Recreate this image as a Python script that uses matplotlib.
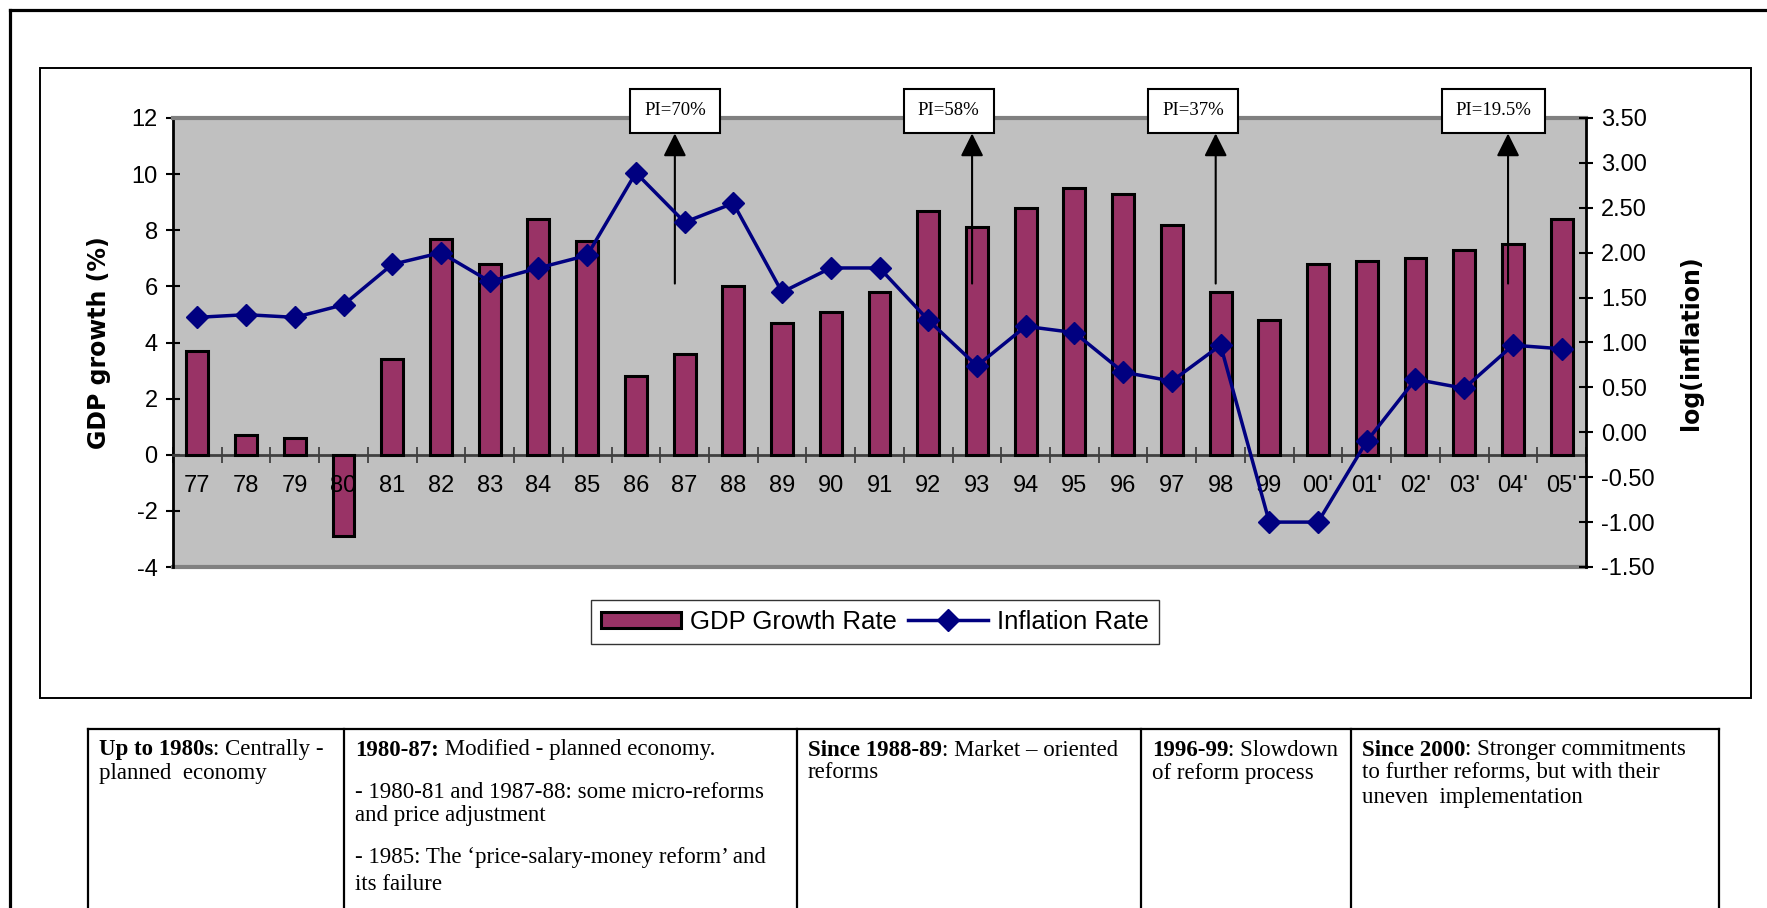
import matplotlib
matplotlib.use("Agg")
import matplotlib.pyplot as plt
from matplotlib.patches import Rectangle
from matplotlib.lines import Line2D
from matplotlib.ticker import FormatStrFormatter
import numpy as np

plt.rcParams['font.family'] = ['Liberation Sans', 'DejaVu Sans']
plt.rcParams['axes.unicode_minus'] = False

# data
years = ['77', '78', '79', '80', '81', '82', '83', '84', '85', '86', '87', '88', '89', '90',
         '91', '92', '93', '94', '95', '96', '97', '98', '99', "00'", "01'", "02'", "03'", "04'", "05'"]
gdp_growth = [3.7, 0.7, 0.6, -2.9, 3.4, 7.7, 6.8, 8.4, 7.6, 2.8, 3.6, 6.0, 4.7, 5.1,
              5.8, 8.7, 8.1, 8.8, 9.5, 9.3, 8.2, 5.8, 4.8, 6.8, 6.9, 7.0, 7.3, 7.5, 8.4]
log_inflation = [1.28, 1.31, 1.28, 1.42, 1.87, 2.00, 1.68, 1.83, 1.97, 2.89, 2.34, 2.55, 1.56, 1.83,
                 1.83, 1.25, 0.74, 1.18, 1.11, 0.67, 0.57, 0.97, -1.0, -1.0, -0.1, 0.59, 0.49, 0.97, 0.93]

pi_labels = ['PI=70%', 'PI=58%', 'PI=37%', 'PI=19.5%']
pi_years = ['87', '93', '98', "04'"]

# (y pixel, [(text, weight), ...]) per line, one list per column
table_cells = [
    [(750, [("Up to 1980s", "bold"), (": Centrally -", "normal")]),
     (773, [("planned  economy", "normal")])],
    [(750, [("1980-87:", "bold"), (" Modified - planned economy.", "normal")]),
     (793, [("- 1980-81 and 1987-88: some micro-reforms", "normal")]),
     (816, [("and price adjustment", "normal")]),
     (858, [("- 1985: The \u2018price-salary-money reform\u2019 and", "normal")]),
     (885, [("its failure", "normal")])],
    [(750, [("Since 1988-89", "bold"), (": Market \u2013 oriented", "normal")]),
     (773, [("reforms", "normal")])],
    [(750, [("1996-99", "bold"), (": Slowdown", "normal")]),
     (773, [("of reform process", "normal")])],
    [(750, [("Since 2000", "bold"), (": Stronger commitments", "normal")]),
     (773, [("to further reforms, but with their", "normal")]),
     (797, [("uneven  implementation", "normal")])],
]
table_cols = [88, 344, 797, 1141, 1351, 1719]

W, H = 1767, 908
fig = plt.figure(figsize=(W / 100, H / 100), dpi=100)


def fx(px):
    return px / W


def fy(py):
    return 1 - py / H


# outer frame and chart frame
fig.add_artist(Line2D([fx(10), fx(10)], [fy(10), fy(920)], color='black', lw=2.3))
fig.add_artist(Line2D([fx(10), fx(1780)], [fy(10), fy(10)], color='black', lw=2.3))
fig.add_artist(Rectangle((fx(40), fy(698)), fx(1751) - fx(40), fy(68) - fy(698),
                         transform=fig.transFigure, fill=False, edgecolor='black', lw=1.4))

ax = fig.add_axes([fx(173), fy(567), fx(1586) - fx(173), fy(118) - fy(567)])
x = np.arange(len(years))
ax.set_facecolor('#C0C0C0')
ax.bar(x, gdp_growth, width=0.45, color='#993366', edgecolor='black', linewidth=2.2,
       zorder=3, label='GDP Growth Rate')
ax.set_xlim(-0.5, len(years) - 0.5)
ax.set_ylim(-4, 12)
ax.set_yticks(np.arange(-4, 13, 2))
ax.tick_params(axis='y', direction='inout', length=10, width=1.5, labelsize=17, pad=6)

ax.spines['bottom'].set_position(('data', 0))
ax.spines['bottom'].set_color('#404040')
ax.spines['bottom'].set_linewidth(2)
ax.spines['top'].set_color('#808080')
ax.spines['top'].set_linewidth(3)
ax.spines['left'].set_linewidth(2)
ax.spines['right'].set_visible(False)
ax.set_xticks(np.arange(-0.5, len(years), 1))
ax.set_xticklabels([])
ax.tick_params(axis='x', direction='inout', length=11, width=1.3, color='#404040')
ax.axhline(-4, color='#808080', lw=3, zorder=2.5, clip_on=False)
for i, lab in enumerate(years):
    ax.text(i, -1.1, lab, ha='center', va='center', fontsize=17, zorder=4)

ax2 = ax.twinx()
ax2.plot(x, log_inflation, color='#000080', lw=2.5, marker='D', markersize=11,
         label='Inflation Rate', zorder=5)
ax2.set_ylim(-1.5, 3.5)
ax2.set_yticks(np.arange(-1.5, 3.51, 0.5))
ax2.yaxis.set_major_formatter(FormatStrFormatter('%.2f'))
ax2.tick_params(axis='y', direction='inout', length=10, width=1.5, labelsize=17, pad=6)
for s in ['left', 'top', 'bottom']:
    ax2.spines[s].set_visible(False)
ax2.spines['right'].set_linewidth(2)

# PI annotations: arrow offset from the year, box centre offset from the arrow
arrow_shift = {'87': -0.2, '93': -0.1, '98': -0.1, "04'": -0.1}
box_shift = {'87': 0.0, '93': -0.48, '98': -0.46, "04'": -0.3}
for lab, yr in zip(pi_labels, pi_years):
    xa = years.index(yr) + arrow_shift[yr]
    ax.annotate('', xy=(xa, 11.45), xytext=(xa, 6.1),
                arrowprops=dict(arrowstyle='-|>,head_length=0.7,head_width=0.35',
                                color='black', lw=1.5, mutation_scale=20,
                                shrinkA=0, shrinkB=0), zorder=4)
    bw = 2.1 if '.' in lab else 1.85
    xc = xa + box_shift[yr]
    ax.add_patch(Rectangle((xc - bw / 2, 11.45), bw, 1.6, facecolor='white',
                           edgecolor='black', lw=1.5, clip_on=False, zorder=6))
    ax.text(xc, 12.25, lab, ha='center', va='center', fontsize=13.5,
            family='Liberation Serif', zorder=7, clip_on=False)

fig.text(fx(99), fy(343), 'GDP growth (%)', rotation=90, ha='center', va='center',
         fontsize=17, fontweight='bold', family='DejaVu Sans')
fig.text(fx(1691), fy(343), 'log(inflation)', rotation=90, ha='center', va='center',
         fontsize=17, fontweight='bold', family='DejaVu Sans')

h1, l1 = ax.get_legend_handles_labels()
h2, l2 = ax2.get_legend_handles_labels()
leg = ax.legend(h1 + h2, l1 + l2, loc='center', bbox_to_anchor=(fx(875), fy(622)),
                bbox_transform=fig.transFigure, ncol=2, fontsize=18.5, frameon=True,
                fancybox=False, edgecolor='black', handlelength=3.1, handleheight=0.6,
                columnspacing=0.45, handletextpad=0.35, borderpad=0.4)
leg.get_frame().set_linewidth(1)

# reform table
for cx in table_cols:
    fig.add_artist(Line2D([fx(cx), fx(cx)], [fy(729), fy(920)], color='black', lw=1.6))
fig.add_artist(Line2D([fx(table_cols[0]), fx(table_cols[-1])], [fy(729), fy(729)],
                      color='black', lw=1.6))

renderer = fig.canvas.get_renderer()
for ci, cell in enumerate(table_cells):
    for ypos, line in cell:
        xpos = table_cols[ci] + 11
        for txt, wt in line:
            t = fig.text(fx(xpos), fy(ypos), txt, ha='left', va='center', fontsize=16.5,
                         family='Liberation Serif', fontweight=wt)
            xpos += t.get_window_extent(renderer).width

fig.savefig('out.png', dpi=100)
